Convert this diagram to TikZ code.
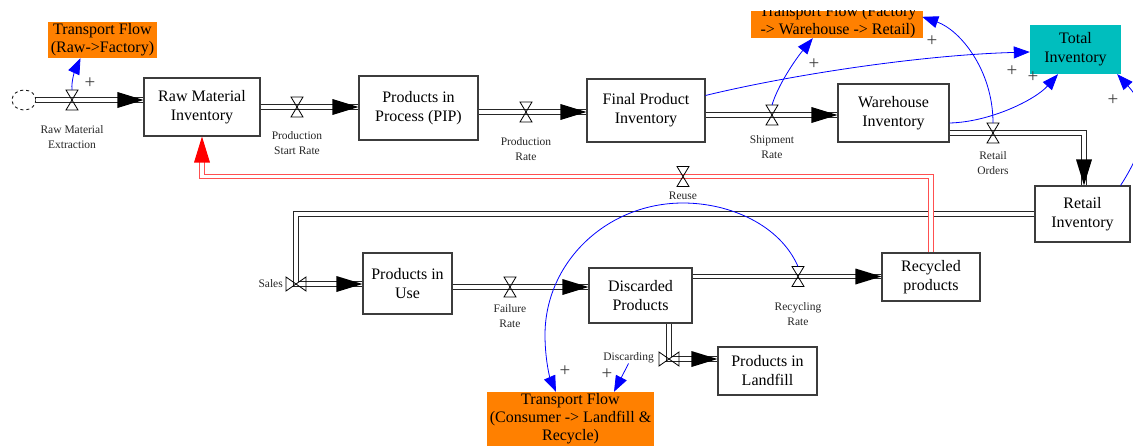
\documentclass[tikz,border=0pt]{standalone}
\usepackage{fontspec}
\setmainfont{Liberation Serif}
\usetikzlibrary{arrows.meta,calc,shapes.geometric}
\definecolor{forange}{RGB}{255,128,0}
\definecolor{fteal}{RGB}{0,190,190}
\definecolor{fblue}{RGB}{0,0,255}
\definecolor{fred}{RGB}{255,80,80}
\definecolor{fgray}{RGB}{60,60,60}
\begin{document}
\begin{tikzpicture}[x=1pt,y=-1pt,
 stock/.style={draw=fgray, line width=1.1pt, fill=white, align=center, inner sep=0pt, font=\fontsize{16}{19}\selectfont},
 obox/.style={fill=forange, align=center, inner sep=0pt, font=\fontsize{16}{18}\selectfont},
 tbox/.style={fill=fteal, align=center, inner sep=0pt, font=\fontsize{16}{19}\selectfont},
 lbl/.style={align=center, inner sep=0pt, text=black!85, font=\fontsize{11.5}{15}\selectfont},
 plussign/.style={inner sep=0pt, text=fgray, font=\fontsize{19}{19}\selectfont},
 pipe/.style={draw=black!85, line width=1.1pt, double=white, double distance=3.6pt},
 rpipe/.style={draw=fred, line width=1.1pt, double=white, double distance=3.6pt},
 link/.style={draw=fblue, line width=0.8pt, -{Triangle[length=16pt,width=12pt]}},
 valveV/.pic={\draw[line width=0.8pt, draw=black] (-6,-10) -- (6,-10) -- (-6,10) -- (6,10) -- cycle;},
 valveH/.pic={\draw[line width=0.8pt, draw=black] (-10,-7) -- (-10,7) -- (10,-7) -- (10,7) -- cycle;},
 tipR/.pic={\fill[black] (0,0) -- (-26,-8) -- (-26,8) -- cycle;},
 tipD/.pic={\fill[black] (0,0) -- (-8,-26) -- (8,-26) -- cycle;},
 tipU/.pic={\fill[red] (0,0) -- (-8,26) -- (8,26) -- cycle;},
]
\useasboundingbox (0,0) rectangle (1133,445);

% stocks
\node[stock, minimum width=116, minimum height=58] (rmi) at (202,107) {Raw Material\\Inventory};
\node[stock, minimum width=119, minimum height=64] (pip) at (418.5,108) {Products in\\Process (PIP)};
\node[stock, minimum width=118, minimum height=63] (fpi) at (646,110.5) {Final Product\\Inventory};
\node[stock, minimum width=111, minimum height=58] (whi) at (893.5,113) {Warehouse\\Inventory};
\node[stock, minimum width=95, minimum height=56] (rti) at (1082.5,214) {Retail\\Inventory};
\node[tbox, minimum width=91, minimum height=49] (tot) at (1075.5,49.5) {Total\\Inventory};
\node[stock, minimum width=89, minimum height=61] (piu) at (407.5,283.5) {Products in\\Use};
\node[stock, minimum width=103, minimum height=55] (dis) at (640.5,295.5) {Discarded\\Products};
\node[stock, minimum width=98, minimum height=48] (rec) at (931,277) {Recycled\\products};
\node[stock, minimum width=99, minimum height=48] (pil) at (767.5,371) {Products in\\Landfill};
\node[obox, minimum width=109, minimum height=36] (tf1) at (102.5,40) {Transport Flow\\(Raw->Factory)};
\node[obox, minimum width=172, minimum height=27] (tf2) at (837,24.5) {};
\begin{scope}
\clip (tf2.north west) rectangle (tf2.south east);
\node[obox, fill=none] (tf2t) at (838,22) {Transport Flow (Factory\\-> Warehouse -> Retail)};
\end{scope}
\node[obox, minimum width=167, minimum height=54] (tf3) at (570.5,419) {Transport Flow\\(Consumer -> Landfill \&\\Recycle)};
\node[draw=black!90, line width=0.9pt, dashed, ellipse, minimum width=24, minimum height=20, inner sep=0pt] (cloud) at (24,100) {};

% valves and corners
\coordinate (v0) at (72,100);
\coordinate (v1) at (297,107);
\coordinate (v2) at (526,112);
\coordinate (v3) at (772,115);
\coordinate (v4) at (993,133);
\coordinate (v5) at (296,284);
\coordinate (v6) at (510,287);
\coordinate (v7) at (798,276.5);
\coordinate (v8) at (669,359);
\coordinate (v9) at (683,176.5);
\coordinate (c5) at (1084,133);

% pipes
\draw[pipe] (cloud.east) -- (v0) -- (v0 -| rmi.west);
\draw[pipe] (v1 -| rmi.east) -- (v1) -- (v1 -| pip.west);
\draw[pipe] (v2 -| pip.east) -- (v2) -- (v2 -| fpi.west);
\draw[pipe] (v3 -| fpi.east) -- (v3) -- (v3 -| whi.west);
\draw[pipe] (v4 -| whi.east) -- (v4) -- (c5) -- (c5 |- rti.north);
\draw[pipe] (rti.west) -- (v5 |- rti.west) -- (v5) -- (v5 -| piu.west);
\draw[pipe] (v6 -| piu.east) -- (v6) -- (v6 -| dis.west);
\draw[pipe] (v7 -| dis.east) -- (v7) -- (v7 -| rec.west);
\draw[pipe] (v8 |- dis.south) -- (v8) -- (v8 -| pil.west);
\draw[rpipe] (rec.north) -- (rec.north |- v9) -- (v9) -- (rmi.south |- v9) -- ($(rmi.south)+(0,20)$);

% flow tips
\pic at (v0 -| rmi.west) {tipR};
\pic at (v1 -| pip.west) {tipR};
\pic at (v2 -| fpi.west) {tipR};
\pic at (v3 -| whi.west) {tipR};
\pic at (c5 |- rti.north) {tipD};
\pic at (v5 -| piu.west) {tipR};
\pic at (v6 -| dis.west) {tipR};
\pic at (v7 -| rec.west) {tipR};
\pic at (v8 -| pil.west) {tipR};
\pic at (rmi.south) {tipU};

% valves
\pic at (v0) {valveV};
\pic at (v1) {valveV};
\pic at (v2) {valveV};
\pic at (v3) {valveV};
\pic at (v4) {valveV};
\pic at (v5) {valveH};
\pic at (v6) {valveV};
\pic at (v7) {valveV};
\pic at (v8) {valveH};
\pic at (v9) {valveV};

% labels
\node[lbl] (l0) at (72,137) {Raw Material\\Extraction};
\node[lbl] (l1) at (297,143) {Production\\Start Rate};
\node[lbl] (l2) at (526,149) {Production\\Rate};
\node[lbl] (l3) at (772,147) {Shipment\\Rate};
\node[lbl] (l4) at (993,163) {Retail\\Orders};
\node[lbl] (l9) at (683,196) {Reuse};
\node[lbl, anchor=east] (l5) at (283,284) {Sales};
\node[lbl] (l6) at (510,316) {Failure\\Rate};
\node[lbl] (l7) at (798,314) {Recycling\\Rate};
\node[lbl, anchor=east] (l8) at (654,358) {Discarding};

% information links
\draw[link] ($(v0)+(0,-10)$) .. controls (71,80) and (76,68) .. ($(tf1.south)+(-22,0)$);
\draw[link] ($(v3)+(0,-10)$) .. controls (778,85) and (795,60) .. ($(tf2.south west)+(62,0)$);
\draw[link] ($(v4)+(0,-10)$) .. controls (993,70) and (960,30) .. ($(tf2.north east)+(-1,6)$);
\draw[link] ($(fpi.north east)+(0,17)$) .. controls (790,75) and (920,55) .. ($(tot.west)+(0,2.5)$);
\draw[link] ($(whi.east)+(0,10)$) .. controls (990,122) and (1035,100) .. ($(tot.south)+(-17.5,0)$);
\draw[link] ($(rti.north east)+(-10,0)$) .. controls (1150,140) and (1150,110) .. ($(tot.south east)+(-4,0)$);
\draw[link] ($(v7)+(0,-10)$) .. controls (780,225) and (730,203) .. (683,203) .. controls (607,203) and (545,262) .. (545,335) .. controls (545,360) and (550,378) .. ($(tf3.north)+(-14.5,0)$);
\draw[link] (l8.south) -- ($(tf3.north)+(43.5,0)$);

% polarities
\node[plussign] (p0) at (90,83) {+};
\node[plussign] (p1) at (814,64) {+};
\node[plussign] (p2) at (932,41) {+};
\node[plussign] (p3) at (1012,71) {+};
\node[plussign] (p4) at (1033,77) {+};
\node[plussign] (p5) at (1113,100) {+};
\node[plussign] (p6) at (565,371) {+};
\node[plussign] (p7) at (607,374) {+};
\end{tikzpicture}
\end{document}
